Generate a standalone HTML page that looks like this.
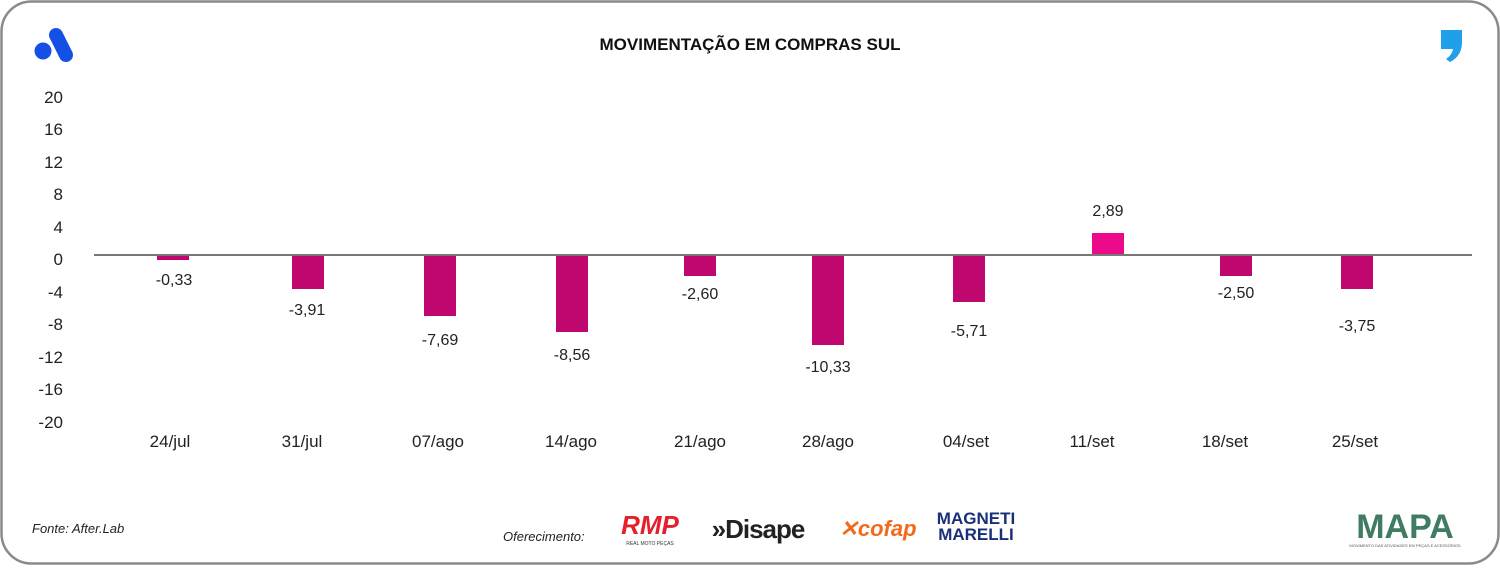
<!DOCTYPE html>
<html><head><meta charset="utf-8"><style>
html,body{margin:0;padding:0;background:#fff;}
body{width:1500px;height:566px;position:relative;overflow:hidden;font-family:"Liberation Sans",sans-serif;}
</style></head><body>
<svg width="1500" height="566" xmlns="http://www.w3.org/2000/svg" font-family="Liberation Sans, sans-serif">
<rect x="1.5" y="1.5" width="1497" height="562" rx="30" fill="#fff" stroke="#8a8a8a" stroke-width="2.5"/>
<!-- left logo -->
<line x1="56" y1="35" x2="66" y2="55" stroke="#1450e6" stroke-width="14" stroke-linecap="round"/>
<circle cx="43" cy="51" r="8.5" fill="#1450e6"/>
<!-- right logo -->
<path d="M1441 30 h21 v12 q0 14 -12 20 l-4 -3 q6 -4 7 -10 h-12 z" fill="#1fa0e8"/>
<text x="750" y="50" text-anchor="middle" font-size="17" font-weight="bold" fill="#111">MOVIMENTAÇÃO EM COMPRAS SUL</text>
<g font-size="17" fill="#222" text-anchor="end">
<text x="63" y="103">20</text><text x="63" y="135">16</text><text x="63" y="168">12</text>
<text x="63" y="200">8</text><text x="63" y="233">4</text><text x="63" y="265">0</text>
<text x="63" y="298">-4</text><text x="63" y="330">-8</text><text x="63" y="363">-12</text>
<text x="63" y="395">-16</text><text x="63" y="428">-20</text>
</g>
<g fill="#c0066f">
<rect x="157" y="255" width="32" height="5"/>
<rect x="292" y="255" width="32" height="34"/>
<rect x="424" y="255" width="32" height="61"/>
<rect x="556" y="255" width="32" height="77"/>
<rect x="684" y="255" width="32" height="21"/>
<rect x="812" y="255" width="32" height="90"/>
<rect x="953" y="255" width="32" height="47"/>
<rect x="1220" y="255" width="32" height="21"/>
<rect x="1341" y="255" width="32" height="34"/>
</g>
<rect x="1092" y="233" width="32" height="22" fill="#ec0a8a"/>
<line x1="94" y1="255" x2="1472" y2="255" stroke="#777" stroke-width="2"/>
<g font-size="16" fill="#222" text-anchor="middle">
<text x="174" y="285">-0,33</text><text x="307" y="315">-3,91</text><text x="440" y="345">-7,69</text>
<text x="572" y="360">-8,56</text><text x="700" y="299">-2,60</text><text x="828" y="372">-10,33</text>
<text x="969" y="336">-5,71</text><text x="1108" y="216">2,89</text><text x="1236" y="298">-2,50</text>
<text x="1357" y="331">-3,75</text>
</g>
<g font-size="17" fill="#222" text-anchor="middle">
<text x="170" y="447">24/jul</text><text x="302" y="447">31/jul</text><text x="438" y="447">07/ago</text>
<text x="571" y="447">14/ago</text><text x="700" y="447">21/ago</text><text x="828" y="447">28/ago</text>
<text x="966" y="447">04/set</text><text x="1092" y="447">11/set</text><text x="1225" y="447">18/set</text>
<text x="1355" y="447">25/set</text>
</g>
<text x="32" y="533" font-size="13" font-style="italic" fill="#222">Fonte: After.Lab</text>
<text x="503" y="541" font-size="13" font-style="italic" fill="#222">Oferecimento:</text>
<text x="650" y="534" font-size="26" font-weight="bold" font-style="italic" fill="#e5202b" text-anchor="middle">RMP</text>
<text x="650" y="545" font-size="5" fill="#333" text-anchor="middle">REAL MOTO PEÇAS</text>
<text x="758" y="538" font-size="26" font-weight="bold" fill="#222" text-anchor="middle" letter-spacing="-1">»Disape</text>
<text x="878" y="536" font-size="22" font-weight="bold" font-style="italic" fill="#f26a1b" text-anchor="middle">✕cofap</text>
<text x="976" y="524" font-size="17" font-weight="bold" fill="#1a2f7a" text-anchor="middle">MAGNETI</text>
<text x="976" y="540" font-size="17" font-weight="bold" fill="#1a2f7a" text-anchor="middle">MARELLI</text>
<text x="1405" y="538" font-size="34" font-weight="bold" fill="#3f7c62" text-anchor="middle">MAPA</text>
<text x="1405" y="547" font-size="4" fill="#555" text-anchor="middle">MOVIMENTO DAS ATIVIDADES EM PEÇAS E ACESSÓRIOS</text>
</svg>
</body></html>
